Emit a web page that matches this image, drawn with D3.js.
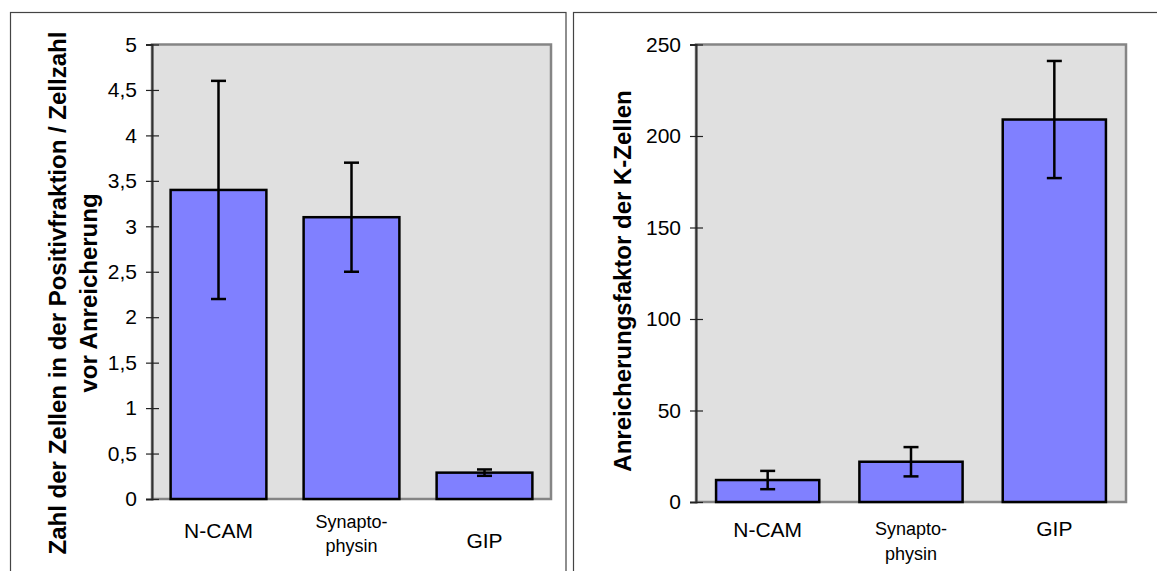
<!DOCTYPE html>
<html>
<head>
<meta charset="utf-8">
<script src="https://cdn.jsdelivr.net/npm/d3@7"></script>
<style>
  body { margin: 0; background: #fff; }
  svg { display: block; font-family: "Liberation Sans", Arial, sans-serif; }
</style>
</head>
<body>
<div id="chart"></div>
<script>
// data
var categories = ["N-CAM", "Synaptophysin", "GIP"];
var categoryLines = [["N-CAM"], ["Synapto-", "physin"], ["GIP"]];

var ratioValues = [3.4, 3.1, 0.29];
var ratioErrors = [1.2, 0.6, 0.035];
var ratioTicks = [0, 0.5, 1, 1.5, 2, 2.5, 3, 3.5, 4, 4.5, 5];
var ratioTickLabels = ["0", "0,5", "1", "1,5", "2", "2,5", "3", "3,5", "4", "4,5", "5"];
var ratioTitle = ["Zahl der Zellen in der Positivfraktion / Zellzahl", "vor Anreicherung"];

var enrichValues = [12, 22, 209];
var enrichErrors = [5, 8, 32];
var enrichTicks = [0, 50, 100, 150, 200, 250];
var enrichTickLabels = ["0", "50", "100", "150", "200", "250"];
var enrichTitle = ["Anreicherungsfaktor der K-Zellen"];

var width = 1157;
var height = 571;

var svg = d3.select('#chart').append('svg')
  .attr('width', width)
  .attr('height', height);

// panel frames
svg.append('rect').attr('x', 10.5).attr('y', 12.5).attr('width', 555.5).attr('height', 600)
  .attr('fill', 'none').attr('stroke', '#444').attr('stroke-width', 1.2);
svg.append('rect').attr('x', 573.5).attr('y', 12.5).attr('width', 600).attr('height', 600)
  .attr('fill', 'none').attr('stroke', '#444').attr('stroke-width', 1.2);

function drawPanel(cfg) {
  var x = d3.scaleBand().domain(categories)
    .range([cfg.left, cfg.right])
    .paddingInner(0.28).paddingOuter(0.14);
  var y = d3.scaleLinear().domain([0, cfg.max]).range([cfg.bottom, cfg.top]);

  var g = svg.append('g');

  // plot area
  g.append('rect')
    .attr('x', cfg.left).attr('y', cfg.top)
    .attr('width', cfg.right - cfg.left).attr('height', cfg.bottom - cfg.top)
    .attr('fill', '#e0e0e0').attr('stroke', '#858585').attr('stroke-width', 2.5);

  // y axis with crossing ticks
  var yAxis = g.append('g')
    .attr('transform', 'translate(' + cfg.left + ',0)')
    .call(d3.axisLeft(y).tickValues(cfg.ticks)
      .tickFormat(function (d, i) { return cfg.tickLabels[i]; })
      .tickSizeOuter(0).tickSize(6).tickPadding(9));
  yAxis.select('.domain').attr('stroke', '#333').attr('stroke-width', 2);
  yAxis.selectAll('.tick line').attr('x1', 7).attr('stroke', '#222').attr('stroke-width', 1.2);
  yAxis.selectAll('.tick text')
    .attr('font-size', 21).attr('fill', '#000')
    .attr('font-family', '"Liberation Sans", Arial, sans-serif');

  // bars
  g.selectAll('rect.bar').data(cfg.values).join('rect')
    .attr('class', 'bar')
    .attr('x', function (d, i) { return x(categories[i]); })
    .attr('y', function (d) { return y(d); })
    .attr('width', x.bandwidth())
    .attr('height', function (d) { return y(0) - y(d); })
    .attr('fill', '#8080ff')
    .attr('stroke', '#000').attr('stroke-width', 2.5);

  // error bars
  var cx = function (i) { return x(categories[i]) + x.bandwidth() / 2; };
  var err = g.selectAll('g.err').data(cfg.values).join('g').attr('class', 'err')
    .attr('stroke', '#000').attr('stroke-width', 2.5);
  err.append('line')
    .attr('x1', function (d, i) { return cx(i); }).attr('x2', function (d, i) { return cx(i); })
    .attr('y1', function (d, i) { return y(d + cfg.errors[i]); })
    .attr('y2', function (d, i) { return y(d - cfg.errors[i]); });
  [1, -1].forEach(function (s) {
    err.append('line')
      .attr('x1', function (d, i) { return cx(i) - 7.5; }).attr('x2', function (d, i) { return cx(i) + 7.5; })
      .attr('y1', function (d, i) { return y(d + s * cfg.errors[i]); })
      .attr('y2', function (d, i) { return y(d + s * cfg.errors[i]); });
  });

  // category labels
  categoryLines.forEach(function (lines, i) {
    lines.forEach(function (t, j) {
      g.append('text')
        .attr('x', cx(i))
        .attr('y', cfg.bottom + cfg.labelOffsets[i][j])
        .attr('text-anchor', 'middle')
        .attr('font-size', lines.length > 1 ? 18 : 21)
        .text(t);
    });
  });

  // axis title
  cfg.title.forEach(function (t, j) {
    g.append('text')
      .attr('transform', 'translate(' + cfg.titleX[j] + ',' + cfg.titleY + ') rotate(-90)')
      .attr('text-anchor', 'middle')
      .attr('dy', '0.36em')
      .attr('font-size', 24)
      .attr('font-weight', 'bold')
      .text(t);
  });
}

drawPanel({
  left: 152, right: 551, top: 44.5, bottom: 499, max: 5,
  values: ratioValues, errors: ratioErrors,
  ticks: ratioTicks, tickLabels: ratioTickLabels,
  labelOffsets: [[39], [29, 53], [49]],
  title: ratioTitle, titleX: [57, 88], titleY: 293
});

drawPanel({
  left: 696, right: 1126, top: 44.5, bottom: 502, max: 250,
  values: enrichValues, errors: enrichErrors,
  ticks: enrichTicks, tickLabels: enrichTickLabels,
  labelOffsets: [[35], [33, 58], [34]],
  title: enrichTitle, titleX: [622], titleY: 281
});
</script>
</body>
</html>
